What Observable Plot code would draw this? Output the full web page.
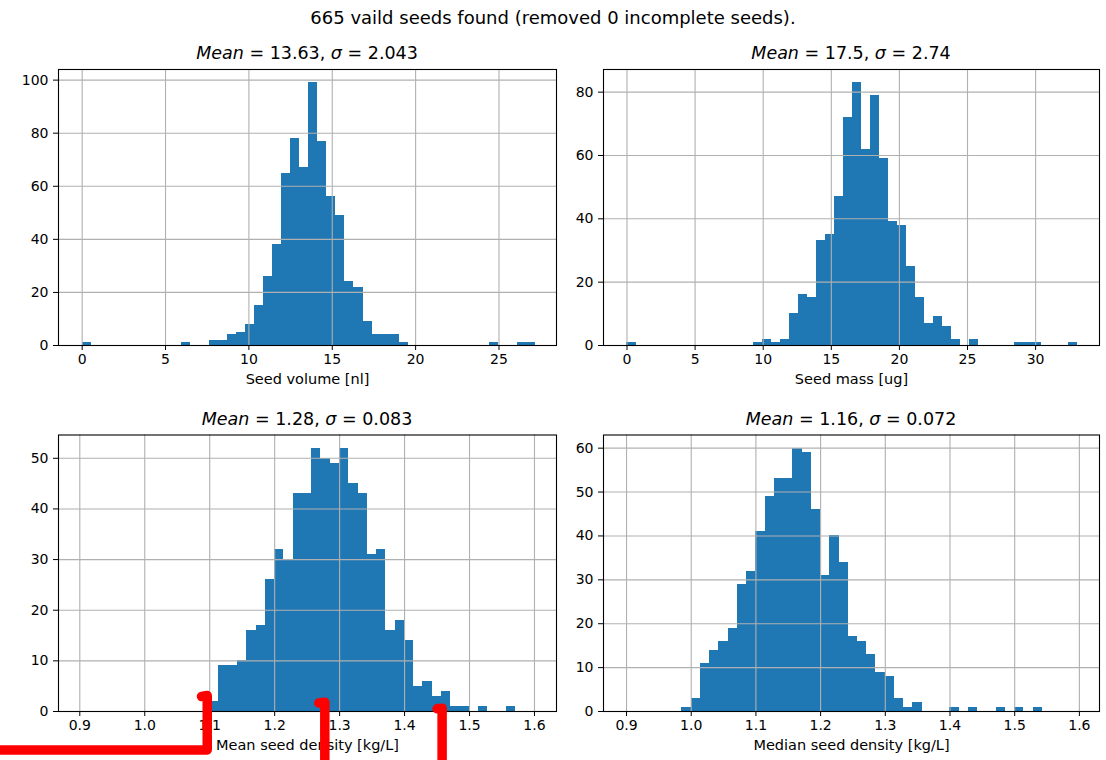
<!DOCTYPE html>
<html><head><meta charset="utf-8">
<script src="https://cdn.jsdelivr.net/npm/d3@7"></script>
<script src="https://cdn.jsdelivr.net/npm/@observablehq/plot@0.6"></script>
<style>
html,body{margin:0;padding:0;background:#fff;}
#root{position:relative;width:1106px;height:760px;overflow:hidden;font-family:"DejaVu Sans",sans-serif;color:#000;}
#root svg{position:absolute;}
</style></head><body><div id="root"></div>
<script>
// ---------------- data ----------------
const suptitle = "665 vaild seeds found (removed 0 incomplete seeds).";
const xLabels = ["Seed volume [nl]", "Seed mass [ug]", "Mean seed density [kg/L]", "Median seed density [kg/L]"];
const means = ["13.63", "17.5", "1.28", "1.16"];
const sigmas = ["2.043", "2.74", "0.083", "0.072"];

// histogram counts, 50 bins each
const volumeCounts = [1,0,0,0,0,0,0,0,0,0, 0,1,0,0,2,2,4,5,8,15, 26,38,65,78,67,99,77,56,49,24, 22,9,4,4,4,1,0,0,0,0, 0,0,0,0,0,1,0,0,1,1];
const massCounts = [1,0,0,0,0,0,0,0,0,0, 0,0,0,0,1,2,1,2,10,16, 15,33,35,47,72,83,62,79,59,39, 38,25,15,7,9,6,2,0,2,0, 0,0,0,1,1,1,0,0,0,1];
const meanDensityCounts = [0,0,0,0,0,0,0,0,0,0, 0,0,0,0,2,9,9,10,16,17, 26,32,30,43,43,52,50,49,52,45, 43,31,32,16,18,14,5,6,3,4, 1,1,0,1,0,0,1,0,0,0];
const medianDensityCounts = [0,0,0,0,0,0,1,3,11,14, 16,19,29,32,41,49,53,53,60,59, 46,31,40,34,17,16,13,9,8,3, 1,2,0,0,0,1,0,1,0,0, 1,0,1,0,1,0,0,0,0,0];

// bin layout (first edge, bin width)
const binStart = [0, 0, 0.9, 0.9];
const binWidth = [0.5434, 0.662, 0.01428, 0.01428];

// tick values
const xTicksVolume = [0, 5, 10, 15, 20, 25];
const xTicksMass = [0, 5, 10, 15, 20, 25, 30];
const xTicksDensity = [0.9, 1.0, 1.1, 1.2, 1.3, 1.4, 1.5, 1.6];
const yTicksVolume = [0, 20, 40, 60, 80, 100];
const yTicksMass = [0, 20, 40, 60, 80];
const yTicksMeanDensity = [0, 10, 20, 30, 40, 50];
const yTicksMedianDensity = [0, 10, 20, 30, 40, 50, 60];

// axis extents
const xDomains = [[-1.42, 28.45], [-1.725, 34.69], [0.8672, 1.6339], [0.8644, 1.6311]];
const yDomains = [[0, 104], [0, 87.15], [0, 54.6], [0, 63]];

// red hand-drawn annotation over the mean-density panel (data units)
const redMarkPath = [
  {id: "a", x: 0.7779, y: -7.6}, {id: "a", x: 1.0962, y: -7.6}, {id: "a", x: 1.0962, y: 3.16}, {id: "a", x: 1.0874, y: 2.96},
  {id: "b", x: 1.2772, y: -12}, {id: "b", x: 1.2772, y: 1.84}, {id: "b", x: 1.2680, y: 1.68},
  {id: "c", x: 1.4578, y: -12}, {id: "c", x: 1.4578, y: 0.65}, {id: "c", x: 1.4501, y: 0.53}
];

// ---------------- drawing ----------------
const root = document.getElementById("root");
const BLUE = "#1f77b4";
const GRID = "#b0b0b0";
const TICK_FONT = 14, LABEL_FONT = 14.5;

function drawPanel(cfg) {
  const bins = d3.range(cfg.counts.length)
    .map(i => ({x1: cfg.x0 + i * cfg.w, x2: cfg.x0 + (i + 1) * cfg.w, count: cfg.counts[i]}))
    .filter(d => d.count > 0);
  const marks = [
    Plot.rect(bins, {x1: "x1", x2: "x2", y1: 0, y2: "count", fill: BLUE, inset: 0, shapeRendering: "crispEdges"}),
    Plot.gridX(cfg.xTicks, {stroke: GRID, strokeOpacity: 1, strokeWidth: 1.1}),
    Plot.gridY(cfg.yTicks, {stroke: GRID, strokeOpacity: 1, strokeWidth: 1.1}),
    Plot.frame({stroke: "#000", strokeWidth: 1.1}),
    Plot.axisX(cfg.xTicks, {tickSize: 5, tickPadding: 4, fontSize: TICK_FONT, label: null, tickFormat: cfg.xFmt}),
    Plot.axisY(cfg.yTicks, {tickSize: 5, tickPadding: 5, fontSize: TICK_FONT, label: null}),
    Plot.text([cfg.xLabel], {frameAnchor: "bottom", dy: 38, fontSize: LABEL_FONT, text: d => d, fill: "#000"})
  ];
  if (cfg.extra) marks.push(...cfg.extra);
  const svg = Plot.plot({
    width: cfg.W, height: cfg.H,
    marginLeft: cfg.fx0 - cfg.sx, marginRight: cfg.sx + cfg.W - cfg.fx1,
    marginTop: cfg.fy0 - cfg.sy, marginBottom: cfg.sy + cfg.H - cfg.fy1,
    style: "font-family: 'DejaVu Sans', sans-serif; font-size: 14px; color: #000; background: transparent; overflow: visible;",
    x: {domain: cfg.xDomain, label: null},
    y: {domain: cfg.yDomain, label: null},
    marks
  });
  // enforce matplotlib-like font sizes on every text of the panel
  svg.querySelectorAll("text").forEach(t => {
    const isLabel = t.textContent === cfg.xLabel;
    t.style.fontSize = (isLabel ? LABEL_FONT : TICK_FONT) + "px";
    t.style.fontFamily = "'DejaVu Sans', sans-serif";
  });
  svg.style.position = "absolute";
  svg.style.left = cfg.sx + "px";
  svg.style.top = cfg.sy + "px";
  root.appendChild(svg);
}

const fmt1 = d3.format(".1f");
const cols = [{sx: 0, W: 570, fx0: 58, fx1: 556}, {sx: 565, W: 541, fx0: 603, fx1: 1099}];
const rows = [{sy: 60, H: 312, fy0: 69, fy1: 345}, {sy: 425, H: 335, fy0: 434.5, fy1: 711}];
const panels = [
  {counts: volumeCounts, xTicks: xTicksVolume, yTicks: yTicksVolume},
  {counts: massCounts, xTicks: xTicksMass, yTicks: yTicksMass},
  {counts: meanDensityCounts, xTicks: xTicksDensity, yTicks: yTicksMeanDensity, xFmt: fmt1,
   extra: [Plot.line(redMarkPath, {x: "x", y: "y", z: "id", stroke: "#ff0000", strokeWidth: 9.5, strokeLinecap: "round", strokeLinejoin: "round"})]},
  {counts: medianDensityCounts, xTicks: xTicksDensity, yTicks: yTicksMedianDensity, xFmt: fmt1}
];
panels.forEach((p, i) => {
  const c = cols[i % 2], r = rows[Math.floor(i / 2)];
  drawPanel(Object.assign({}, p, c, r, {
    x0: binStart[i], w: binWidth[i], xDomain: xDomains[i], yDomain: yDomains[i], xLabel: xLabels[i]
  }));
});

// titles overlay
const NS = "http://www.w3.org/2000/svg";
const ov = document.createElementNS(NS, "svg");
ov.setAttribute("width", 1106); ov.setAttribute("height", 760);
ov.style.left = "0px"; ov.style.top = "0px"; ov.style.pointerEvents = "none";
ov.setAttribute("font-family", "DejaVu Sans");
function addText(x, y, size, parts) {
  const t = document.createElementNS(NS, "text");
  t.setAttribute("x", x); t.setAttribute("y", y);
  t.setAttribute("font-size", size); t.setAttribute("text-anchor", "middle"); t.setAttribute("fill", "#000");
  parts.forEach(([s, it]) => {
    const ts = document.createElementNS(NS, "tspan");
    ts.textContent = s;
    if (it) ts.setAttribute("font-style", "italic");
    t.appendChild(ts);
  });
  ov.appendChild(t);
}
addText(553, 24, 18, [[suptitle, false]]);
const titleCx = [307, 851], titleBase = [59, 424.5];
means.forEach((m, i) => {
  addText(titleCx[i % 2], titleBase[Math.floor(i / 2)], 17.5,
    [["Mean", true], [" = " + m + ", ", false], ["σ", true], [" = " + sigmas[i], false]]);
});
root.appendChild(ov);
</script></body></html>
